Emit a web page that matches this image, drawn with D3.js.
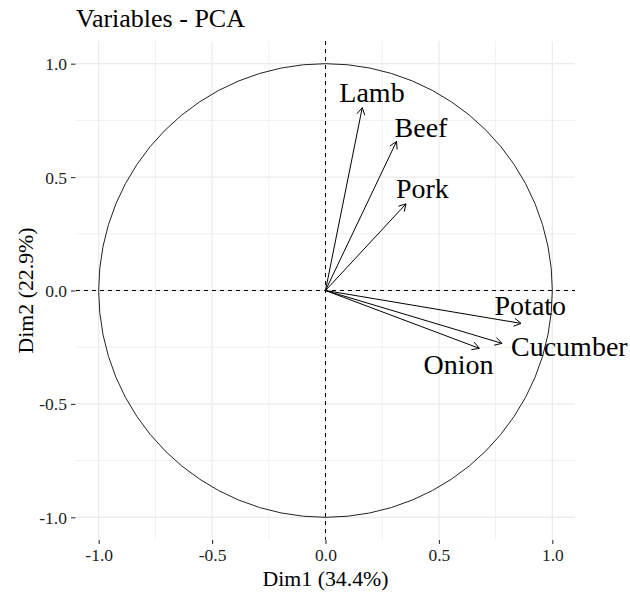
<!DOCTYPE html>
<html>
<head>
<meta charset="utf-8">
<script src="https://cdn.jsdelivr.net/npm/d3@7"></script>
<style>
  html, body { margin: 0; padding: 0; background: #fff; }
  svg text { font-family: "Liberation Serif", "Times New Roman", serif; }
</style>
</head>
<body>
<svg id="chart" width="630" height="593"></svg>
<script>
// ---- data ----
const variables = ["Lamb", "Beef", "Pork", "Potato", "Cucumber", "Onion"];
const dim1 = [0.162, 0.313, 0.355, 0.862, 0.778, 0.678];
const dim2 = [0.806, 0.657, 0.382, -0.145, -0.233, -0.255];
// label anchor positions (data units, as placed in the reference)
const labelX = [0.205, 0.421, 0.427, 0.903, 1.075, 0.586];
const labelY = [0.872, 0.719, 0.448, -0.068, -0.249, -0.329];
const majorTicks = [-1.0, -0.5, 0.0, 0.5, 1.0];
const minorTicks = [-0.75, -0.25, 0.25, 0.75];
const titleText = "Variables - PCA";
const xTitle = "Dim1 (34.4%)";
const yTitle = "Dim2 (22.9%)";

const FONT = '"Liberation Serif", "Times New Roman", serif';

// ---- layout ----
const svg = d3.select("#chart");
const panel = { left: 76, right: 575, top: 41, bottom: 540 };
const x = d3.scaleLinear().domain([-1.1, 1.1]).range([panel.left, panel.right]);
const y = d3.scaleLinear().domain([-1.1, 1.1]).range([panel.bottom, panel.top]);

const grid = svg.append("g");
// minor grid
grid.selectAll(".vminor").data(minorTicks).join("line")
  .attr("x1", d => x(d)).attr("x2", d => x(d))
  .attr("y1", panel.top).attr("y2", panel.bottom)
  .attr("stroke", "#ebebeb").attr("stroke-width", 0.8);
grid.selectAll(".hminor").data(minorTicks).join("line")
  .attr("y1", d => y(d)).attr("y2", d => y(d))
  .attr("x1", panel.left).attr("x2", panel.right)
  .attr("stroke", "#ebebeb").attr("stroke-width", 0.8);
// major grid
grid.selectAll(".vmajor").data(majorTicks).join("line")
  .attr("x1", d => x(d)).attr("x2", d => x(d))
  .attr("y1", panel.top).attr("y2", panel.bottom)
  .attr("stroke", "#ebebeb").attr("stroke-width", 1.3);
grid.selectAll(".hmajor").data(majorTicks).join("line")
  .attr("y1", d => y(d)).attr("y2", d => y(d))
  .attr("x1", panel.left).attr("x2", panel.right)
  .attr("stroke", "#ebebeb").attr("stroke-width", 1.3);

// axes
const fmt = d => d.toFixed(1);
const xAxis = d3.axisBottom(x).tickValues(majorTicks).tickFormat(fmt).tickSize(4).tickPadding(5);
const yAxis = d3.axisLeft(y).tickValues(majorTicks).tickFormat(fmt).tickSize(4.5).tickPadding(4);
const gx = svg.append("g").attr("transform", `translate(0,${panel.bottom})`).call(xAxis);
const gy = svg.append("g").attr("transform", `translate(${panel.left - 0.5},0)`).call(yAxis);
[gx, gy].forEach(g => {
  g.select(".domain").remove();
  g.selectAll(".tick line").attr("stroke", "#333").attr("stroke-width", 1.1);
  g.selectAll(".tick text").attr("fill", "#222")
    .attr("font-family", FONT).style("font-family", FONT).style("font-size", "17.5px");
});
gx.selectAll(".tick text").attr("dy", "0.71em");
gy.selectAll(".tick text").attr("dy", "0.34em");

// dashed zero lines
svg.append("line")
  .attr("x1", panel.left).attr("x2", panel.right)
  .attr("y1", y(0)).attr("y2", y(0))
  .attr("stroke", "#000").attr("stroke-width", 1).attr("stroke-dasharray", "4,4");
svg.append("line")
  .attr("x1", x(0)).attr("x2", x(0))
  .attr("y1", panel.top).attr("y2", panel.bottom)
  .attr("stroke", "#000").attr("stroke-width", 1).attr("stroke-dasharray", "4,4");

// correlation circle
svg.append("ellipse")
  .attr("cx", x(0)).attr("cy", y(0))
  .attr("rx", x(1) - x(0)).attr("ry", y(0) - y(1))
  .attr("fill", "none").attr("stroke", "#222").attr("stroke-width", 1);

// arrows
const data = variables.map((v, i) => ({ name: v, x: dim1[i], y: dim2[i], lx: labelX[i], ly: labelY[i] }));
const arrows = svg.append("g");
const headLen = 8, headAng = Math.PI / 6;
data.forEach(d => {
  const x0 = x(0), y0 = y(0), x1 = x(d.x), y1 = y(d.y);
  const ang = Math.atan2(y1 - y0, x1 - x0);
  arrows.append("line")
    .attr("x1", x0).attr("y1", y0).attr("x2", x1).attr("y2", y1)
    .attr("stroke", "#000").attr("stroke-width", 1);
  const p1 = [x1 - headLen * Math.cos(ang - headAng), y1 - headLen * Math.sin(ang - headAng)];
  const p2 = [x1 - headLen * Math.cos(ang + headAng), y1 - headLen * Math.sin(ang + headAng)];
  arrows.append("path")
    .attr("d", `M${p1[0]},${p1[1]}L${x1},${y1}L${p2[0]},${p2[1]}`)
    .attr("fill", "none").attr("stroke", "#000").attr("stroke-width", 1);
});

// labels
svg.append("g").selectAll("text").data(data).join("text")
  .attr("x", d => x(d.lx)).attr("y", d => y(d.ly))
  .attr("text-anchor", "middle").attr("dy", "0.33em")
  .attr("fill", "#000").style("font-family", FONT).style("font-size", "28px")
  .text(d => d.name);

// titles
svg.append("text").attr("x", 76).attr("y", 27)
  .attr("fill", "#000").style("font-family", FONT).style("font-size", "26px").text(titleText);
svg.append("text").attr("x", x(0)).attr("y", 586)
  .attr("text-anchor", "middle").attr("fill", "#000")
  .style("font-family", FONT).style("font-size", "21.8px").text(xTitle);
svg.append("text").attr("transform", `translate(33,${y(0)}) rotate(-90)`)
  .attr("text-anchor", "middle").attr("fill", "#000")
  .style("font-family", FONT).style("font-size", "21.8px").text(yTitle);
</script>
</body>
</html>
